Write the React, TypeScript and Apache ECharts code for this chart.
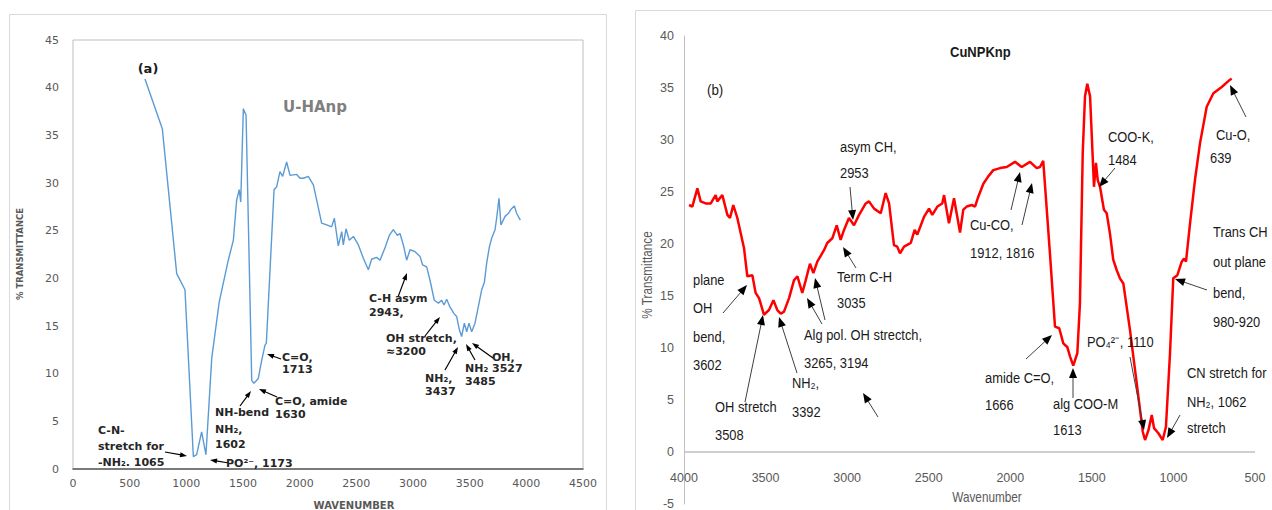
import React, { useEffect, useRef } from "react";
import * as echarts from "echarts";

// ---- Panel (a): U-HAnp ----
const waveA = [635, 788, 915, 988, 1062, 1091, 1135, 1173, 1224, 1290, 1370, 1415, 1444, 1467, 1480, 1503, 1527, 1577, 1597, 1635, 1665, 1694, 1706, 1774, 1797, 1826, 1850, 1885, 1915, 1974, 2003, 2032, 2076, 2121, 2194, 2238, 2282, 2306, 2341, 2371, 2385, 2409, 2438, 2474, 2518, 2562, 2606, 2635, 2679, 2709, 2753, 2791, 2826, 2862, 2885, 2915, 2944, 2974, 3018, 3062, 3085, 3121, 3150, 3188, 3224, 3253, 3274, 3297, 3326, 3362, 3385, 3409, 3429, 3453, 3474, 3494, 3518, 3547, 3576, 3606, 3630, 3650, 3674, 3694, 3724, 3738, 3759, 3776, 3812, 3841, 3862, 3894, 3915, 3947];
const transA = [40.9, 35.7, 20.5, 18.8, 1.3, 1.5, 3.9, 1.5, 11.6, 17.5, 21.9, 24.0, 28.2, 29.3, 28.0, 37.8, 37.1, 9.3, 9.0, 9.5, 11.4, 13.0, 13.2, 29.3, 29.6, 31.2, 30.7, 32.2, 30.8, 30.9, 30.5, 30.5, 30.7, 29.8, 25.8, 25.6, 25.4, 26.3, 23.4, 24.9, 23.5, 25.2, 24.0, 24.4, 23.5, 22.1, 20.9, 22.0, 22.2, 21.9, 23.2, 24.5, 25.1, 24.5, 24.7, 23.5, 21.9, 23.0, 22.8, 22.3, 21.4, 21.2, 19.8, 17.7, 17.4, 17.7, 17.2, 17.8, 17.0, 16.3, 16.0, 14.6, 13.9, 15.3, 14.4, 15.3, 14.4, 15.3, 17.0, 18.8, 19.6, 21.6, 23.3, 24.2, 25.1, 26.3, 28.4, 25.6, 26.5, 26.8, 27.2, 27.6, 26.8, 26.1];

// ---- Panel (b): CuNPKnp ----
const waveB = [3969, 3949, 3918, 3898, 3867, 3836, 3806, 3796, 3765, 3734, 3718, 3698, 3673, 3652, 3632, 3612, 3581, 3561, 3540, 3510, 3479, 3452, 3428, 3407, 3387, 3356, 3326, 3305, 3275, 3254, 3228, 3207, 3183, 3142, 3122, 3091, 3064, 3040, 3019, 2989, 2958, 2927, 2886, 2866, 2835, 2794, 2764, 2743, 2713, 2693, 2676, 2651, 2610, 2586, 2570, 2529, 2498, 2478, 2447, 2417, 2406, 2376, 2345, 2308, 2288, 2267, 2236, 2216, 2196, 2165, 2135, 2104, 2063, 2022, 1971, 1930, 1879, 1838, 1818, 1798, 1757, 1726, 1700, 1675, 1651, 1634, 1614, 1589, 1573, 1556, 1542, 1528, 1511, 1495, 1487, 1475, 1464, 1450, 1426, 1409, 1389, 1369, 1348, 1328, 1307, 1266, 1225, 1188, 1174, 1153, 1133, 1119, 1092, 1066, 1046, 1021, 1001, 976, 949, 935, 923, 898, 868, 837, 796, 755, 704, 653, 643];
const transB = [23.75, 23.6, 25.35, 24.1, 23.9, 23.9, 24.7, 24.1, 24.7, 22.8, 22.5, 23.75, 22.5, 21.0, 19.6, 16.9, 17.0, 15.3, 14.8, 13.2, 13.65, 14.6, 13.65, 13.3, 13.5, 14.8, 16.5, 16.9, 15.3, 16.5, 18.1, 17.2, 18.3, 19.4, 20.1, 20.55, 21.8, 20.4, 21.35, 22.5, 21.8, 22.8, 23.9, 24.1, 23.4, 22.95, 24.9, 23.9, 19.9, 19.75, 19.1, 19.75, 20.1, 21.35, 20.9, 22.6, 23.4, 22.8, 23.6, 23.9, 24.7, 22.0, 24.4, 21.1, 23.3, 23.6, 23.75, 23.6, 24.55, 25.8, 26.5, 27.1, 27.3, 27.4, 27.9, 27.4, 27.9, 27.3, 27.4, 28.0, 19.1, 12.05, 11.9, 10.45, 10.1, 9.2, 8.3, 9.5, 14.3, 28.7, 34.2, 35.4, 34.2, 28.4, 25.5, 27.8, 26.15, 25.5, 23.3, 22.95, 21.0, 18.5, 17.5, 16.7, 16.2, 11.7, 6.6, 1.95, 1.15, 2.1, 3.55, 2.3, 1.8, 1.15, 2.4, 9.5, 16.7, 17.0, 18.3, 18.6, 18.3, 22.0, 26.15, 29.7, 33.2, 34.5, 35.1, 35.8, 35.9];

// ---- Text labels ----
const titleA = "U-HAnp";
const panelA = "(a)";
const titleB = "CuNPKnp";
const panelB = "(b)";
const xTitleA = "WAVENUMBER";
const yTitleA = "% TRANSMITTANCE";
const xTitleB = "Wavenumber";
const yTitleB = "% Transmittance";

const FONT_A = "DejaVu Sans";
const FONT_B = "'Liberation Sans', Arial, sans-serif";
const NARROW = 0.86;

type Note = { lines: string[]; x: number; ys: number[] };
const notesA: Note[] = [
  { lines: ["C-N-", "stretch for", "-NH₂. 1065"], x: 98, ys: [430, 446, 462] },
  { lines: ["PO²⁻, 1173"], x: 226, ys: [463] },
  { lines: ["NH-bend", "NH₂,", "1602"], x: 215, ys: [412, 429, 444] },
  { lines: ["C=O, amide", "1630"], x: 275, ys: [401, 414] },
  { lines: ["C=O,", "1713"], x: 282, ys: [357, 369] },
  { lines: ["C-H asym", "2943,"], x: 369, ys: [298, 312] },
  { lines: ["OH stretch,", "≈3200"], x: 386, ys: [338, 351] },
  { lines: ["NH₂,", "3437"], x: 425, ys: [378, 391] },
  { lines: ["NH₂", "3485"], x: 465, ys: [368, 381] },
  { lines: ["OH,", "3527"], x: 492, ys: [357, 368] },
];
const arrowsA: number[][] = [
  [165, 452, 187, 456],
  [229, 463, 210, 460],
  [240, 406, 251, 391],
  [277, 397, 259, 389],
  [281, 359, 267, 354],
  [398, 297, 407, 273],
  [425, 336, 440, 317],
  [445, 370, 458, 347],
  [475, 360, 466, 344],
  [493, 358, 472, 343],
];
const notesB: Note[] = [
  { lines: ["asym CH,", "2953"], x: 840, ys: [147, 173] },
  { lines: ["COO-K,", "1484"], x: 1108, ys: [137, 160] },
  { lines: ["Cu-O,"], x: 1216, ys: [135] },
  { lines: ["639"], x: 1210, ys: [158] },
  { lines: ["Cu-CO,", "1912, 1816"], x: 970, ys: [225, 253] },
  { lines: ["Trans CH", "out plane", "bend,", "980-920"], x: 1213, ys: [232, 262, 293, 322] },
  { lines: ["plane", "OH", "bend,", "3602"], x: 693, ys: [280, 308, 337, 365] },
  { lines: ["OH stretch", "3508"], x: 715, ys: [407, 435] },
  { lines: ["NH₂,", "3392"], x: 792, ys: [383, 412] },
  { lines: ["Alg pol. OH strectch,", "3265, 3194"], x: 804, ys: [335, 363] },
  { lines: ["Term C-H", "3035"], x: 837, ys: [277, 303] },
  { lines: ["amide C=O,", "1666"], x: 985, ys: [378, 405] },
  { lines: ["alg COO-M", "1613"], x: 1053, ys: [404, 430] },
  { lines: ["PO₄²⁻, 1110"], x: 1087, ys: [342] },
  { lines: ["CN stretch for", "NH₂, 1062", "stretch"], x: 1187, ys: [373, 402, 428] },
];
const arrowsB: number[][] = [
  [850, 187, 853, 220],
  [1115, 168, 1099, 187],
  [1246, 117, 1230, 85],
  [1011, 210, 1020, 172],
  [1022, 225, 1032, 183],
  [1207, 290, 1175, 279],
  [723, 313, 747, 285],
  [745, 402, 763, 315],
  [797, 373, 779, 317],
  [822, 324, 807, 298],
  [825, 320, 815, 278],
  [856, 268, 843, 247],
  [878, 417, 863, 393],
  [1026, 359, 1052, 335],
  [1073, 398, 1073, 368],
  [1130, 357, 1144, 430],
  [1180, 415, 1167, 438],
];

function arrow(a: number[], len: number, wid: number, color: string, lw: number) {
  const [x1, y1, x2, y2] = a;
  const dx = x2 - x1, dy = y2 - y1;
  const d = Math.hypot(dx, dy) || 1;
  const ux = dx / d, uy = dy / d;
  const bx = x2 - ux * len, by = y2 - uy * len;
  const px = -uy, py = ux;
  return [
    { type: "line", z: 100, silent: true, shape: { x1, y1, x2: bx + ux, y2: by + uy }, style: { stroke: color, lineWidth: lw } },
    {
      type: "polygon", z: 100, silent: true,
      shape: { points: [[x2, y2], [bx + (px * wid) / 2, by + (py * wid) / 2], [bx - (px * wid) / 2, by - (py * wid) / 2]] },
      style: { fill: "#000" },
    },
  ];
}

function txt(text: string, x: number, y: number, fam: string, size: number, weight: string, color: string, align = "left", rotation = 0, scaleX = 1) {
  return {
    type: "text", z: 101, silent: true, x, y, rotation, scaleX,
    style: {
      text, fill: color, fontFamily: fam, fontSize: size, fontWeight: weight,
      align, verticalAlign: "middle", textAlign: align, textVerticalAlign: "middle",
    },
  };
}

const plain = (v: number) => String(v);

export default function App() {
  const ref = useRef<HTMLDivElement>(null);
  useEffect(() => {
    if (!ref.current) return;
    const chart = echarts.init(ref.current, undefined, { renderer: "svg" });
    const elements: any[] = [];
    elements.push({ type: "rect", z: 0, silent: true, shape: { x: 9.5, y: 14.5, width: 597, height: 520 }, style: { fill: "none", stroke: "#d9d9d9", lineWidth: 1 } });
    elements.push({ type: "rect", z: 0, silent: true, shape: { x: 635.5, y: 10.5, width: 700, height: 520 }, style: { fill: "none", stroke: "#d9d9d9", lineWidth: 1 } });
    notesA.forEach((n) => n.lines.forEach((l, i) => elements.push(txt(l, n.x, n.ys[i], FONT_A, 11, "bold", "#262626"))));
    arrowsA.forEach((a) => elements.push(...arrow(a, 7, 5, "#000", 1.2)));
    notesB.forEach((n) => n.lines.forEach((l, i) => elements.push(txt(l, n.x, n.ys[i], FONT_B, 15, "normal", "#1a1a1a", "left", 0, NARROW))));
    arrowsB.forEach((a) => elements.push(...arrow(a, 10, 8, "#404040", 1)));
    elements.push(txt(panelA, 148, 68, FONT_A, 13, "bold", "#1a1a1a", "center"));
    elements.push(txt(titleA, 283, 107, FONT_A, 15, "bold", "#7f7f7f"));
    elements.push(txt(panelB, 707, 90, FONT_B, 15.5, "normal", "#1a1a1a", "left", 0, NARROW));
    elements.push(txt(titleB, 950, 52, FONT_B, 15.5, "bold", "#1a1a1a", "left", 0, 0.84));
    elements.push(txt(xTitleA, 354, 505, FONT_A, 10, "bold", "#595959", "center"));
    elements.push(txt(yTitleA, 20, 254, FONT_A, 8.5, "bold", "#595959", "center", Math.PI / 2));
    elements.push(txt(xTitleB, 987, 497, FONT_B, 14, "normal", "#595959", "center", 0, 0.84));
    elements.push(txt(yTitleB, 647, 275, FONT_B, 14, "normal", "#595959", "center", Math.PI / 2, 0.84));

    chart.setOption({
      animation: false,
      backgroundColor: "#ffffff",
      grid: [
        { left: 73, top: 40, width: 510, height: 429, show: true, borderColor: "#bfbfbf", borderWidth: 1, backgroundColor: "transparent", containLabel: false, outerBoundsMode: "none" },
        { left: 684, top: 36, width: 571, height: 468, show: false, containLabel: false, outerBoundsMode: "none" },
      ],
      xAxis: [
        {
          gridIndex: 0, type: "value", min: 0, max: 4500, interval: 500,
          axisLine: { show: true, onZero: false, lineStyle: { color: "#595959", width: 1.5 } },
          axisTick: { show: false }, splitLine: { show: false },
          axisLabel: { color: "#595959", fontFamily: FONT_A, fontSize: 11, margin: 9, formatter: plain },
        },
        {
          gridIndex: 1, type: "value", inverse: true, min: 500, max: 4000, interval: 500,
          axisLine: { show: false, onZero: false },
          axisTick: { show: false }, splitLine: { show: false },
          axisLabel: { color: "#595959", fontFamily: FONT_B, fontSize: 12.5, inside: true, margin: 20, formatter: plain },
        },
      ],
      yAxis: [
        {
          gridIndex: 0, type: "value", min: 0, max: 45, interval: 5,
          axisLine: { show: false }, axisTick: { show: false }, splitLine: { show: false },
          axisLabel: { color: "#595959", fontFamily: FONT_A, fontSize: 11, margin: 14, formatter: plain },
        },
        {
          gridIndex: 1, type: "value", min: -5, max: 40, interval: 5,
          axisLine: { show: true, onZero: false, lineStyle: { color: "#bfbfbf", width: 1 } },
          axisTick: { show: false }, splitLine: { show: false },
          axisLabel: { color: "#595959", fontFamily: FONT_B, fontSize: 12.5, margin: 10, formatter: plain },
        },
      ],
      series: [
        {
          name: titleA, type: "line", xAxisIndex: 0, yAxisIndex: 0, symbol: "none", silent: true,
          data: waveA.map((x, i) => [x, transA[i]]),
          lineStyle: { color: "#5b9bd5", width: 1.4 },
        },
        {
          name: titleB, type: "line", xAxisIndex: 1, yAxisIndex: 1, symbol: "none", silent: true,
          data: waveB.map((x, i) => [x, transB[i]]),
          lineStyle: { color: "#ff0000", width: 2.5 },
          markLine: {
            silent: true, symbol: "none", label: { show: false },
            lineStyle: { color: "#bfbfbf", width: 1.5, type: "solid" },
            data: [{ yAxis: 0 }],
          },
        },
      ],
      graphic: { elements },
    });
    return () => chart.dispose();
  }, []);
  return <div ref={ref} style={{ position: "absolute", left: 0, top: 0, width: 1272, height: 510 }} />;
}
